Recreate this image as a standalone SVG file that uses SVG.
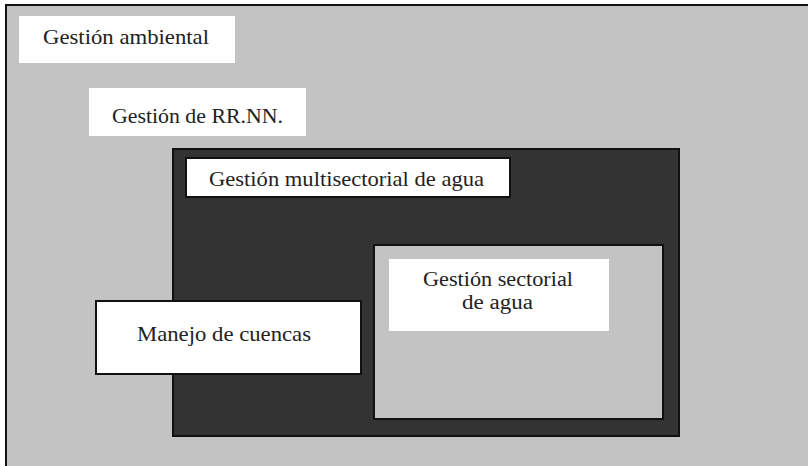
<svg xmlns="http://www.w3.org/2000/svg" width="808" height="466" viewBox="0 0 808 466">
<style>
.lbl{font-family:"Liberation Serif","Times New Roman",serif;font-size:22px;fill:#222;}
.sm{font-size:20px;}
.wb{fill:#fff;stroke:none;}
.wbs{fill:#fff;stroke:#111;stroke-width:2;}
</style>
<rect x="0" y="0" width="808" height="466" fill="#fff"/>
<rect x="6" y="5" width="812" height="472" fill="#c3c3c3" stroke="#111" stroke-width="2"/>
<g id="rrnn-area">
<rect x="173" y="149" width="506" height="287" fill="#333" stroke="#111" stroke-width="2"/>
</g>
<g id="sectorial-area">
<rect x="374" y="245" width="289" height="174" fill="#c3c3c3" stroke="#111" stroke-width="2"/>
</g>
<g id="connectors"></g>
<g id="gestion-ambiental">
<rect class="wb" x="19" y="16" width="216" height="47"/>
<text class="lbl" x="43" y="44" textLength="166" lengthAdjust="spacingAndGlyphs">Gestión ambiental</text>
</g>
<g id="gestion-rrnn">
<rect class="wb" x="89" y="88" width="217" height="48"/>
<text class="lbl" x="112" y="123" textLength="171" lengthAdjust="spacingAndGlyphs">Gestión de RR.NN.</text>
</g>
<g id="gestion-multisectorial">
<rect class="wbs" x="186" y="158" width="324" height="39"/>
<text class="lbl" x="209" y="186" textLength="275" lengthAdjust="spacingAndGlyphs">Gestión multisectorial de agua</text>
</g>
<g id="gestion-sectorial">
<rect class="wb" x="389" y="259" width="220" height="72"/>
<text class="lbl sm" x="423" y="286" textLength="150" lengthAdjust="spacingAndGlyphs">Gestión sectorial</text>
<text class="lbl sm" x="462" y="309" textLength="71" lengthAdjust="spacingAndGlyphs">de agua</text>
</g>
<g id="manejo-cuencas">
<rect class="wbs" x="96" y="301" width="265" height="73"/>
<text class="lbl" x="137" y="341" textLength="174" lengthAdjust="spacingAndGlyphs">Manejo de cuencas</text>
</g>
</svg>
